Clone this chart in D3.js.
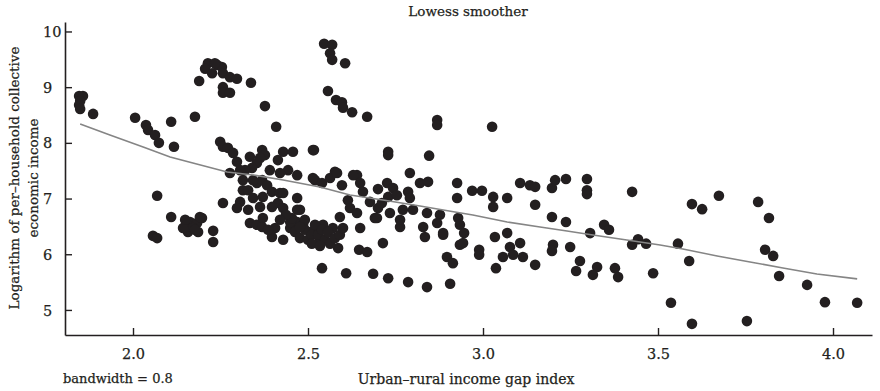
<!DOCTYPE html>
<html><head><meta charset="utf-8">
<script src="https://cdn.jsdelivr.net/npm/d3@7"></script>
<style>body{margin:0;background:#fff}svg{display:block}text{font-family:"DejaVu Serif",serif;fill:#231f20;stroke:#231f20;stroke-width:0.25px}</style>
</head><body><div id="chart"></div>
<script>
const title = "Lowess smoother";
const xLabel = "Urban\u2013rural income gap index";
const yLabelLines = ["Logarithm of per\u2013household collective", "economic income"];
const note = "bandwidth = 0.8";
const xTicks = [2.0, 2.5, 3.0, 3.5, 4.0];
const yTicks = [5, 6, 7, 8, 9, 10];

const gapIndex = [1.846,1.857,1.849,1.846,1.849,1.886,2.006,2.037,2.043,2.063,2.074,2.109,2.117,2.177,2.189,2.214,2.206,2.226,2.240,2.254,2.257,2.277,2.297,2.257,2.257,2.277,2.337,2.234,2.546,2.569,2.563,2.569,2.606,2.557,2.580,2.597,2.600,2.626,2.669,2.869,2.869,2.377,2.409,2.517,2.729,2.729,2.846,3.026,
2.069,2.109,2.151,2.163,2.183,2.197,2.157,2.186,2.171,2.057,2.069,2.229,2.229,2.257,2.177,2.143,2.191,2.149,
2.249,2.257,2.271,2.286,2.297,2.334,2.369,2.377,2.363,2.354,2.340,2.320,2.306,2.277,2.391,2.414,2.429,2.457,2.469,2.443,2.420,2.514,2.520,2.540,2.314,2.329,2.354,2.369,2.383,2.397,2.420,2.371,2.343,2.306,2.469,2.477,2.414,2.429,2.397,2.363,2.329,2.297,2.334,2.354,2.371,2.369,2.397,2.429,2.449,2.469,2.486,2.506,2.526,2.534,2.540,2.343,2.314,
2.577,2.563,2.597,2.640,2.649,2.657,2.700,2.726,2.743,2.729,2.791,2.820,2.843,2.786,2.791,2.614,2.620,2.677,2.700,2.734,2.771,2.800,2.840,2.877,2.926,2.926,2.591,2.640,
2.543,2.571,2.586,2.649,2.646,2.669,2.714,2.691,2.763,2.829,2.834,2.886,2.763,2.897,2.914,2.934,2.609,2.686,2.729,2.786,2.840,2.906,
2.754,2.711,2.697,2.629,2.583,2.514,2.429,2.469,2.869,
2.449,2.463,2.477,2.491,2.500,2.511,2.520,2.529,2.540,2.549,2.557,2.563,2.577,2.591,2.600,2.491,2.477,2.454,2.437,2.420,2.406,2.386,2.511,2.534,
2.969,2.997,3.029,3.029,3.069,3.106,3.134,3.149,3.149,3.197,3.206,3.237,3.297,3.297,3.297,3.426,2.929,2.934,2.886,2.946,2.943,3.197,3.237,3.306,3.346,3.360,3.426,3.443,3.466,3.034,3.069,3.106,3.077,2.989,2.989,3.057,3.086,3.114,3.037,3.149,3.200,3.197,3.249,3.277,3.266,3.326,3.314,3.377,3.386,3.486,
3.674,3.597,3.626,3.786,3.817,3.557,3.589,3.806,3.829,3.846,3.926,3.977,4.069,3.537,3.597,3.754];

const logIncome = [8.84,8.84,8.75,8.68,8.61,8.52,8.45,8.32,8.23,8.14,8.00,8.38,7.93,8.47,9.11,9.43,9.33,9.25,9.40,9.36,9.25,9.18,9.15,9.00,8.90,8.90,9.08,9.43,9.78,9.76,9.61,9.49,9.43,8.93,8.77,8.73,8.63,8.55,8.47,8.41,8.32,8.66,8.29,7.87,7.84,7.78,7.77,8.29,
7.05,6.67,6.53,6.58,6.56,6.65,6.40,6.40,6.47,6.33,6.29,6.42,6.22,6.92,6.44,6.47,6.67,6.62,
8.02,7.93,7.91,7.82,7.66,7.75,7.87,7.78,7.73,7.64,7.55,7.51,7.51,7.46,7.51,7.69,7.84,7.84,7.42,7.51,7.46,7.87,7.33,7.28,7.15,7.15,7.28,7.33,7.24,7.12,7.10,7.03,7.01,6.94,7.01,6.80,6.92,6.83,6.85,6.85,6.80,6.83,6.56,6.53,6.65,6.49,6.31,6.26,6.47,6.58,6.53,6.40,6.47,6.26,5.75,7.33,7.33,
7.48,7.37,7.24,7.42,7.28,7.12,7.17,7.28,7.19,7.03,7.46,7.28,7.30,7.12,7.01,6.97,6.83,6.94,6.83,6.74,6.80,6.80,6.74,6.71,7.28,7.01,6.67,6.74,
6.53,6.47,6.11,6.47,6.08,6.04,6.20,6.65,6.49,6.49,6.31,6.35,6.62,5.95,5.84,6.17,5.66,5.65,5.57,5.50,5.41,5.47,
7.06,6.92,6.65,7.42,7.46,7.37,7.10,6.80,6.56,
6.58,6.40,6.29,6.44,6.26,6.35,6.53,6.35,6.44,6.26,6.40,6.19,6.29,6.35,6.47,6.62,6.49,6.65,6.71,6.62,6.47,6.44,6.19,6.15,
7.14,7.14,7.03,6.85,7.01,7.28,7.24,7.21,6.89,7.19,7.33,7.35,7.35,7.15,7.08,7.12,6.65,6.53,6.38,6.38,6.20,6.67,6.58,6.38,6.53,6.44,6.17,6.27,6.19,6.31,6.38,6.20,6.13,6.08,5.99,5.95,5.99,5.95,5.75,5.81,6.17,6.06,6.13,5.88,5.70,5.77,5.63,5.75,5.59,5.66,
7.05,6.90,6.81,6.94,6.65,6.19,5.88,6.08,5.97,5.61,5.45,5.14,5.13,5.13,4.75,4.80];

const lowessX = [1.849,1.934,2.029,2.106,2.171,2.269,2.343,2.429,2.534,2.620,2.714,2.820,2.920,2.971,3.069,3.163,3.240,3.314,3.411,3.506,3.571,3.669,3.763,3.857,3.954,4.069];
const lowessY = [8.339,8.142,7.926,7.747,7.639,7.478,7.424,7.334,7.208,7.065,6.975,6.867,6.760,6.706,6.580,6.490,6.418,6.347,6.257,6.167,6.095,5.970,5.862,5.754,5.646,5.557];

const W = 880, H = 391;
const svg = d3.select("#chart").append("svg").attr("width", W).attr("height", H);

const x = d3.scaleLinear().domain([1.8057, 4.1114]).range([65, 872]);
const y = d3.scaleLinear().domain([4.55, 10.17]).range([335, 22]);

const ink = "#231f20";

// points
const pts = gapIndex.map((g, i) => [g, logIncome[i]]);
svg.append("g").selectAll("circle").data(pts).join("circle")
  .attr("cx", d => x(d[0])).attr("cy", d => y(d[1])).attr("r", 5.3).attr("fill", ink);

// lowess line
const lw = lowessX.map((g, i) => [g, lowessY[i]]);
svg.append("path").datum(lw)
  .attr("d", d3.line().x(d => x(d[0])).y(d => y(d[1])))
  .attr("fill", "none").attr("stroke", "#858585").attr("stroke-width", 1.6);

// axes
const xAxis = svg.append("g").attr("transform", "translate(0,335)")
  .call(d3.axisBottom(x).tickValues(xTicks).tickFormat(d3.format(".1f")).tickSizeInner(-7).tickSizeOuter(0).tickPadding(14));
const yAxis = svg.append("g").attr("transform", "translate(65,0)")
  .call(d3.axisLeft(y).tickValues(yTicks).tickFormat(d3.format("d")).tickSizeInner(-7).tickSizeOuter(0).tickPadding(9));
[xAxis, yAxis].forEach(a => {
  a.select(".domain").attr("stroke", ink).attr("stroke-width", 1.6);
  a.selectAll(".tick line").attr("stroke", ink).attr("stroke-width", 1.4);
  a.selectAll(".tick text").attr("font-family", '"DejaVu Serif", serif').attr("font-size", 14.5).attr("fill", ink);
});
yAxis.selectAll(".tick text").attr("text-anchor", "start").attr("x", -22).attr("dy", "0.35em");

// title
svg.append("text").attr("x", 468).attr("y", 16).attr("text-anchor", "middle")
  .attr("font-size", 13.5).text(title);

// x label
svg.append("text").attr("x", 466).attr("y", 384).attr("text-anchor", "middle")
  .attr("font-size", 14).text(xLabel);

// note
svg.append("text").attr("x", 63).attr("y", 383).attr("text-anchor", "start")
  .attr("font-size", 13).text(note);

// y label
const yl = svg.append("text").attr("transform", "translate(19,178) rotate(-90)")
  .attr("text-anchor", "middle").attr("font-size", 13.5);
yl.append("tspan").attr("x", 0).attr("y", 0).text(yLabelLines[0]);
yl.append("tspan").attr("x", 0).attr("y", 19).text(yLabelLines[1]);
</script></body></html>
